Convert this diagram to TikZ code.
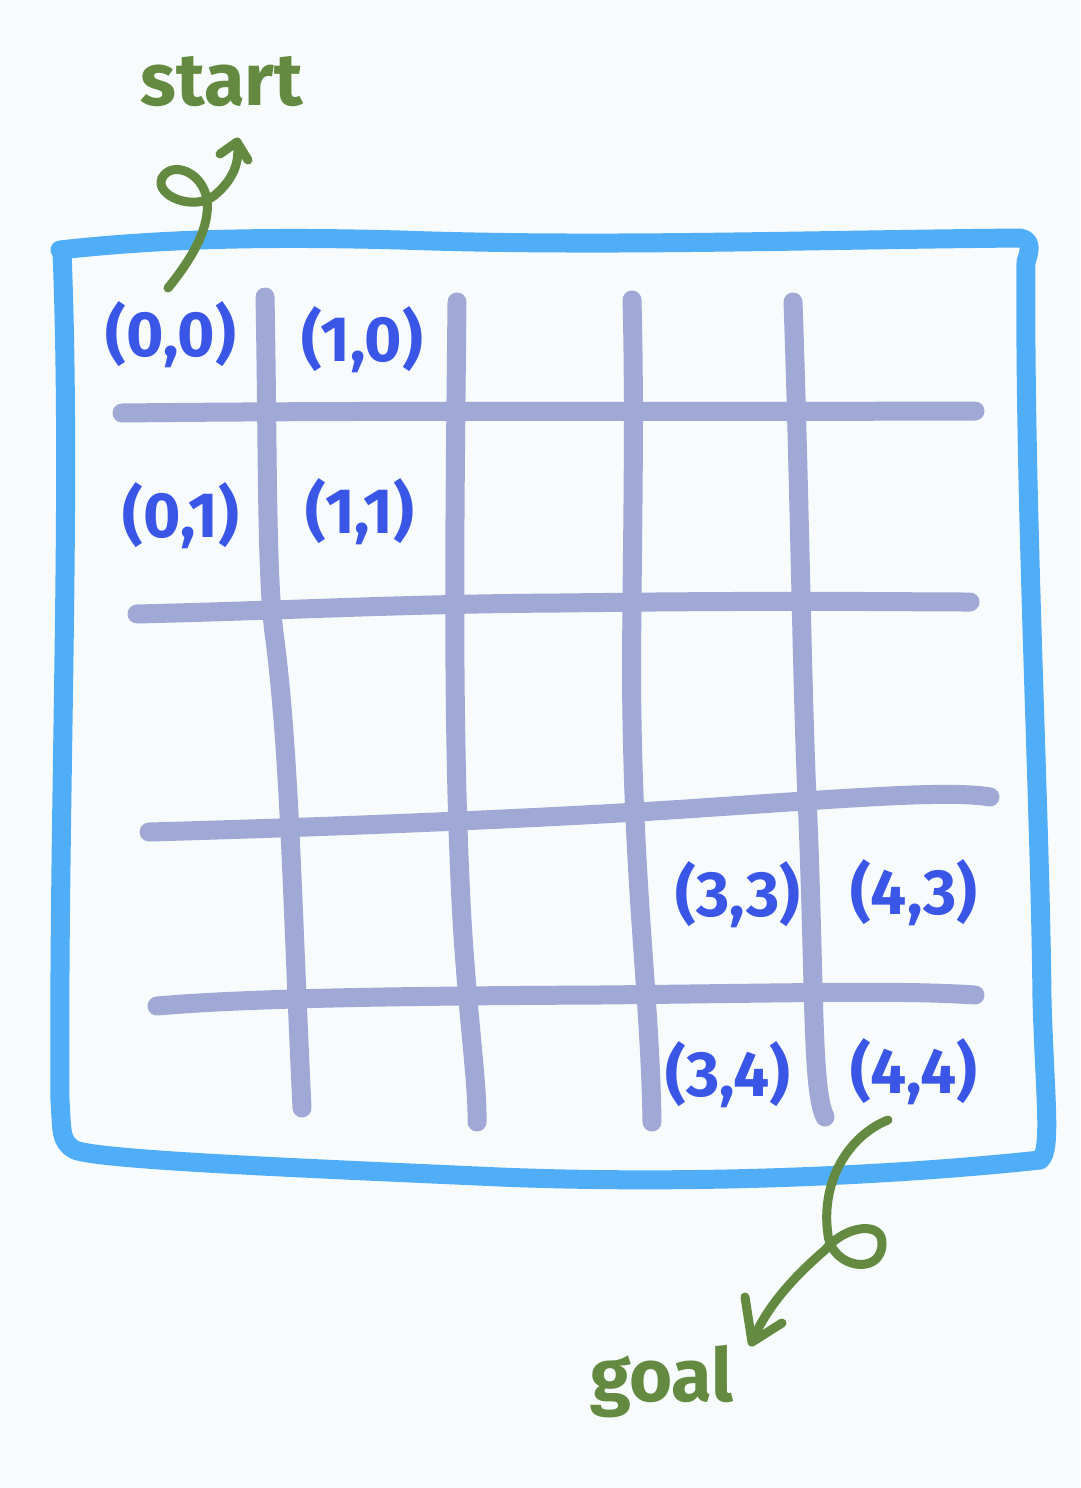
\documentclass[tikz,border=0pt]{standalone}
\usepackage{fontspec}
\setmainfont{Fira Sans}
\definecolor{bg}{HTML}{F8FBFB}
\definecolor{frameblue}{HTML}{4FAEF7}
\definecolor{gridc}{HTML}{A0A9D6}
\definecolor{labblue}{HTML}{3A56E6}
\definecolor{leaf}{HTML}{638A40}
\tikzset{
  framestroke/.style={draw=frameblue,line width=19pt,line cap=round,line join=round},
  gridstroke/.style={draw=gridc,line width=19pt,line cap=round,line join=round},
  cell/.style={text=labblue,font=\bfseries\fontsize{64}{66}\selectfont,inner sep=0pt},
  note/.style={text=leaf,font=\bfseries\fontsize{74}{76}\selectfont,inner sep=0pt},
  curl/.style={draw=leaf,line width=9pt,line cap=round,line join=round}
}
\begin{document}
\begin{tikzpicture}[x=1pt,y=-1pt]
\useasboundingbox (0,0) rectangle (1080,1488);
\fill[bg] (0,0) rectangle (1080,1488);
% frame
\draw[framestroke] (60,250) .. controls (150,240) and (250,236) .. (400,240)
  .. controls (600,247) and (800,240) .. (1020,238)
  .. controls (1032,240) and (1030,250) .. (1026,262)
  .. controls (1024,500) and (1040,800) .. (1042,1000)
  .. controls (1045,1100) and (1052,1150) .. (1040,1160)
  .. controls (900,1175) and (700,1185) .. (500,1177)
  .. controls (300,1168) and (100,1160) .. (75,1150)
  .. controls (60,1142) and (62,1130) .. (60,1100)
  .. controls (58,800) and (72,500) .. (62,252);
% horizontal grid lines
\draw[gridstroke] (122,413) .. controls (400,410) and (700,412) .. (975,411);
\draw[gridstroke] (137,614) .. controls (300,610) and (400,604) .. (560,603) .. controls (800,600) and (900,602) .. (970,602);
\draw[gridstroke] (149,832) .. controls (400,825) and (600,815) .. (700,808) .. controls (850,798) and (950,790) .. (990,797);
\draw[gridstroke] (157,1006) .. controls (250,998) and (400,996) .. (600,995) .. controls (800,993) and (900,990) .. (975,995);
% vertical grid lines
\draw[gridstroke] (265,297) .. controls (268,450) and (266,580) .. (275,640) .. controls (290,760) and (292,900) .. (302,1108);
\draw[gridstroke] (457,302) .. controls (455,500) and (452,700) .. (460,880) .. controls (465,1000) and (478,1080) .. (477,1122);
\draw[gridstroke] (632,300) .. controls (636,450) and (630,620) .. (632,720) .. controls (635,900) and (650,1000) .. (652,1122);
\draw[gridstroke] (793,302) .. controls (800,500) and (802,700) .. (808,820) .. controls (815,1000) and (812,1090) .. (825,1117);
% labels
\node[cell] (c00) at (171,335) {(0,0)};
\node[cell] (c10) at (362,340) {(1,0)};
\node[cell] (c01) at (181,516) {(0,1)};
\node[cell] (c11) at (360,512) {(1,1)};
\node[cell] (c33) at (738,895) {(3,3)};
\node[cell] (c43) at (914,893) {(4,3)};
\node[cell] (c34) at (728,1075) {(3,4)};
\node[cell] (c44) at (914,1072) {(4,4)};
% start
\node[note] (start) at (222,82) {start};
\coordinate (sfrom) at (168,288);
\coordinate (stip) at (237,142);
\draw[curl] (sfrom) .. controls (195,255) and (210,225) .. (207,200)
  .. controls (203,172) and (172,160) .. (162,178)
  .. controls (154,196) and (195,212) .. (215,195)
  .. controls (235,178) and (240,160) .. (stip);
\draw[curl] (220,154) -- (stip) -- (248,160);
% goal
\node[note] (goal) at (662,1382) {goal};
\coordinate (gfrom) at (888,1120);
\coordinate (gtip) at (752,1342);
\draw[curl] (gfrom) .. controls (850,1135) and (820,1180) .. (828,1235)
  .. controls (832,1268) and (880,1276) .. (882,1245)
  .. controls (884,1220) and (845,1225) .. (825,1250)
  .. controls (790,1280) and (765,1310) .. (gtip);
\draw[curl] (745,1297) -- (gtip) -- (782,1323);
\end{tikzpicture}
\end{document}
